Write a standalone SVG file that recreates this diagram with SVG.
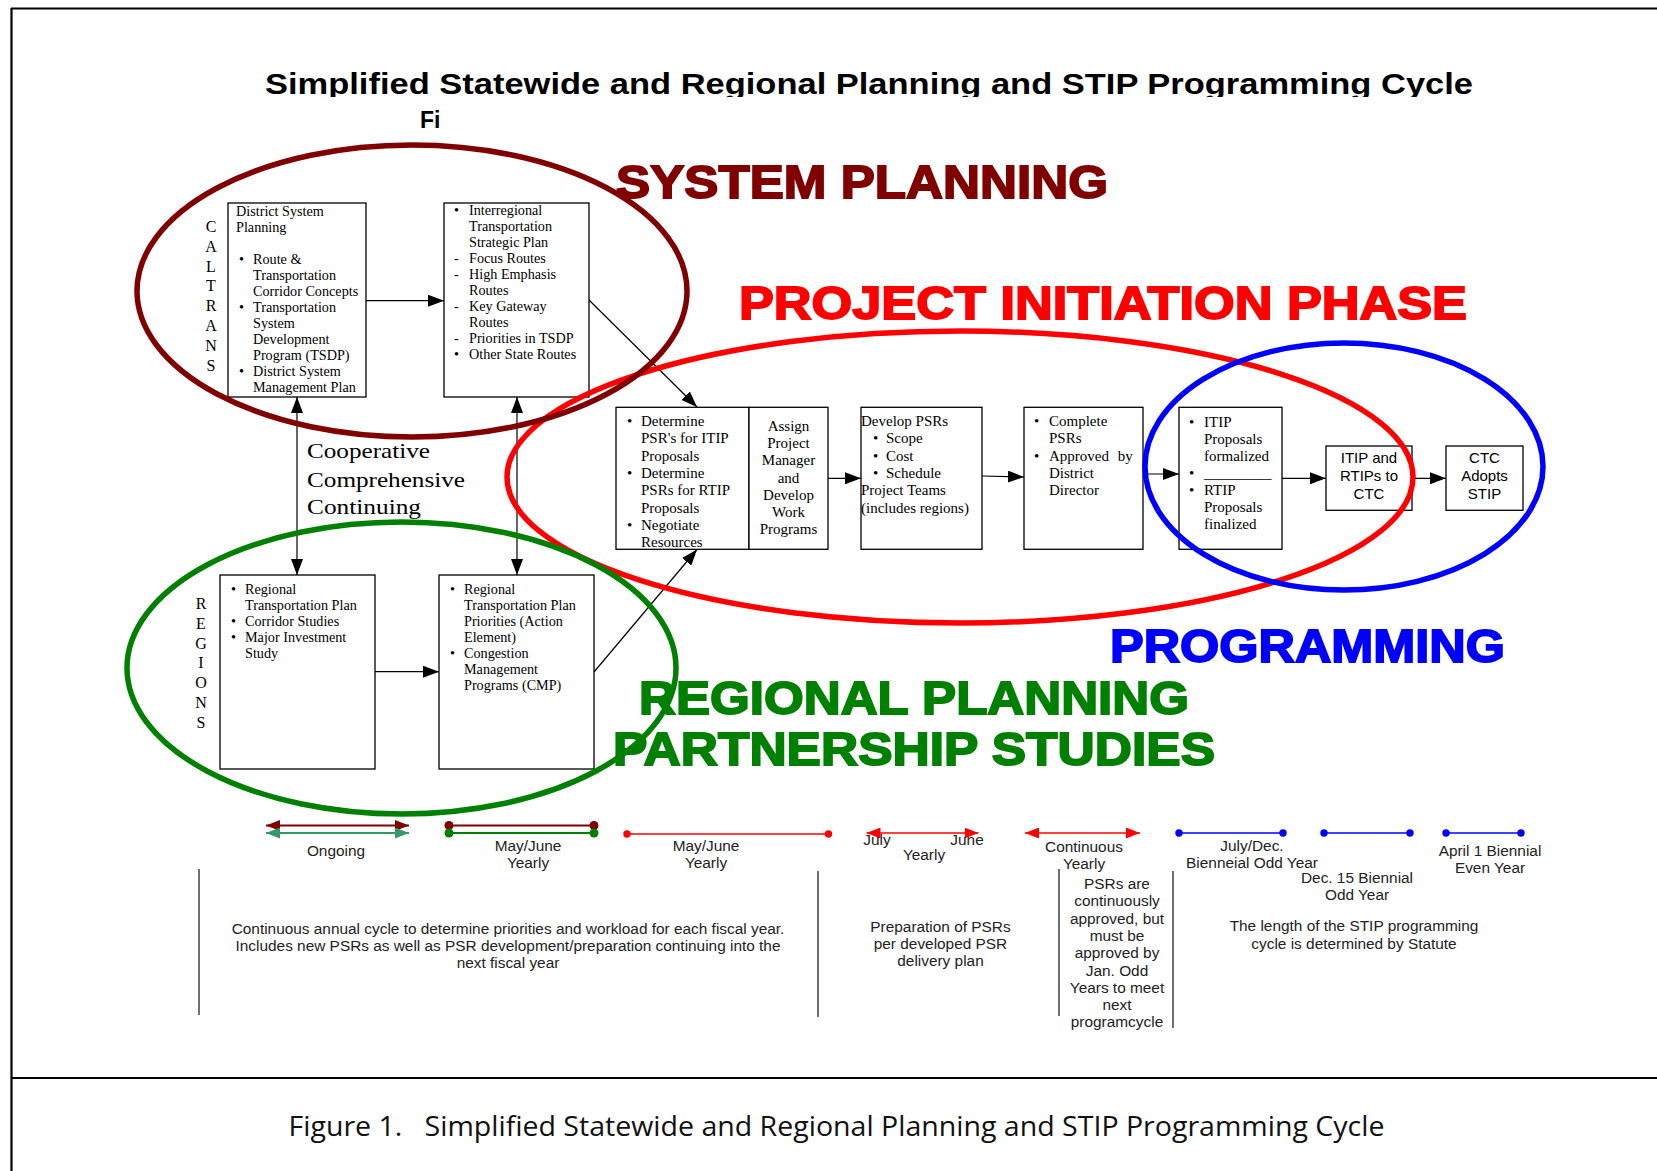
<svg xmlns="http://www.w3.org/2000/svg" width="1657" height="1171" viewBox="0 0 1657 1171">
<style>
.bx{fill:#fff;stroke:#000;stroke-width:1.3}
.s{font-family:"Liberation Serif","Times New Roman",serif;font-size:14.2px;fill:#000}
.s15{font-family:"Liberation Serif","Times New Roman",serif;font-size:15px;fill:#000}
.a15{font-family:"Liberation Sans",Arial,sans-serif;font-size:15px;fill:#000}
.t{font-family:"Liberation Sans",Arial,sans-serif;font-size:15.4px;fill:#222}
.big{font-family:"Liberation Sans",Arial,sans-serif;font-size:47px;font-weight:bold;stroke-width:1.8}
.conn{stroke:#000;stroke-width:1.2;fill:none}
.ell{fill:none;stroke-width:5.5}
.vl{stroke:#222;stroke-width:1.3}
</style>
<defs>
<marker id="ah" markerUnits="userSpaceOnUse" markerWidth="16" markerHeight="12" refX="16" refY="6" orient="auto-start-reverse"><path d="M0,0 L16,6 L0,12 z" fill="#000"/></marker>
<marker id="ahDR" markerUnits="userSpaceOnUse" markerWidth="14" markerHeight="11" refX="14" refY="5.5" orient="auto-start-reverse"><path d="M0,0 L14,5.5 L0,11 z" fill="#800000"/></marker>
<marker id="ahG" markerUnits="userSpaceOnUse" markerWidth="14" markerHeight="11" refX="14" refY="5.5" orient="auto-start-reverse"><path d="M0,0 L14,5.5 L0,11 z" fill="#339966"/></marker>
<marker id="ahR" markerUnits="userSpaceOnUse" markerWidth="14" markerHeight="11" refX="14" refY="5.5" orient="auto-start-reverse"><path d="M0,0 L14,5.5 L0,11 z" fill="#ff0000"/></marker>
<clipPath id="titleclip"><rect x="0" y="0" width="1657" height="97"/></clipPath>
</defs>
<rect width="1657" height="1171" fill="#fff"/>
<g id="frame" stroke="#000" stroke-width="2.2">
<line x1="11" y1="8.5" x2="1657" y2="8.5"/>
<line x1="11.5" y1="8" x2="11.5" y2="1171"/>
<line x1="11" y1="1078" x2="1657" y2="1078"/>
</g>
<text id="title" x="265" y="94" textLength="1208" lengthAdjust="spacingAndGlyphs" clip-path="url(#titleclip)" style="font-family:'Liberation Sans',Arial,sans-serif;font-size:29px;font-weight:bold" fill="#000">Simplified Statewide and Regional Planning and STIP Programming Cycle</text>
<text id="fi" x="420" y="127.7" style="font-family:'Liberation Sans',Arial,sans-serif;font-size:23px;font-weight:bold" fill="#000">Fi</text>

<g id="caltrans-label" class="s" style="font-size:16px" text-anchor="middle">
<text x="211" y="232">C</text><text x="211" y="251.8">A</text><text x="211" y="271.6">L</text><text x="211" y="291.4">T</text><text x="211" y="311.2">R</text><text x="211" y="331">A</text><text x="211" y="350.8">N</text><text x="211" y="370.6">S</text>
</g>
<g id="regions-label" class="s" style="font-size:16px" text-anchor="middle">
<text x="201" y="609">R</text><text x="201" y="628.8">E</text><text x="201" y="648.6">G</text><text x="201" y="668.4">I</text><text x="201" y="688.2">O</text><text x="201" y="708">N</text><text x="201" y="727.8">S</text>
</g>

<g id="connectors">
<line class="conn" x1="366" y1="300.7" x2="444" y2="300.7" marker-end="url(#ah)"/>
<line class="conn" x1="297" y1="397" x2="297" y2="575" marker-start="url(#ah)" marker-end="url(#ah)"/>
<line class="conn" x1="517" y1="397" x2="517" y2="575" marker-start="url(#ah)" marker-end="url(#ah)"/>
<line class="conn" x1="375" y1="671.7" x2="439" y2="671.7" marker-end="url(#ah)"/>
<line class="conn" x1="589" y1="300" x2="697" y2="407" marker-end="url(#ah)"/>
<line class="conn" x1="594" y1="672" x2="697" y2="549.5" marker-end="url(#ah)"/>
<line class="conn" x1="828" y1="478.3" x2="861" y2="478.3" marker-end="url(#ah)"/>
<line class="conn" x1="982" y1="476" x2="1024" y2="477" marker-end="url(#ah)"/>
<line class="conn" x1="1143" y1="474" x2="1179" y2="474" marker-end="url(#ah)"/>
<line class="conn" x1="1282" y1="478.3" x2="1326" y2="478.3" marker-end="url(#ah)"/>
<line class="conn" x1="1412" y1="478.3" x2="1446" y2="478.3" marker-end="url(#ah)"/>
</g>

<g id="n-district">
<rect class="bx" x="228" y="203" width="138" height="194"/>
<g class="s">
<text x="236" y="215.5">District System</text>
<text x="236" y="231.5">Planning</text>
<text x="239" y="263.5">•</text><text x="253" y="263.5">Route &amp;</text>
<text x="253" y="279.5">Transportation</text>
<text x="253" y="295.5">Corridor Concepts</text>
<text x="239" y="311.5">•</text><text x="253" y="311.5">Transportation</text>
<text x="253" y="327.5">System</text>
<text x="253" y="343.5">Development</text>
<text x="253" y="359.5">Program (TSDP)</text>
<text x="239" y="375.5">•</text><text x="253" y="375.5">District System</text>
<text x="253" y="391.5">Management Plan</text>
</g>
</g>

<g id="n-interregional">
<rect class="bx" x="444" y="203" width="145" height="194"/>
<g class="s">
<text x="454" y="215">•</text><text x="469" y="215">Interregional</text>
<text x="469" y="231">Transportation</text>
<text x="469" y="247">Strategic Plan</text>
<text x="454" y="263">-</text><text x="469" y="263">Focus Routes</text>
<text x="454" y="279">-</text><text x="469" y="279">High Emphasis</text>
<text x="469" y="295">Routes</text>
<text x="454" y="311">-</text><text x="469" y="311">Key Gateway</text>
<text x="469" y="327">Routes</text>
<text x="454" y="343">-</text><text x="469" y="343">Priorities in TSDP</text>
<text x="454" y="359">•</text><text x="469" y="359">Other State Routes</text>
</g>
</g>

<g id="n-rtp">
<rect class="bx" x="220" y="575" width="155" height="194"/>
<g class="s">
<text x="231" y="594">•</text><text x="245" y="594">Regional</text>
<text x="245" y="610">Transportation Plan</text>
<text x="231" y="626">•</text><text x="245" y="626">Corridor Studies</text>
<text x="231" y="642">•</text><text x="245" y="642">Major Investment</text>
<text x="245" y="658">Study</text>
</g>
</g>

<g id="n-rtp-priorities">
<rect class="bx" x="439" y="575" width="155" height="194"/>
<g class="s">
<text x="450" y="594">•</text><text x="464" y="594">Regional</text>
<text x="464" y="610">Transportation Plan</text>
<text x="464" y="626">Priorities (Action</text>
<text x="464" y="642">Element)</text>
<text x="450" y="658">•</text><text x="464" y="658">Congestion</text>
<text x="464" y="674">Management</text>
<text x="464" y="690">Programs (CMP)</text>
</g>
</g>

<g id="coop-label" class="s" style="font-size:21.5px">
<text x="307" y="458.3" textLength="123" lengthAdjust="spacingAndGlyphs">Cooperative</text>
<text x="307" y="486.7" textLength="158" lengthAdjust="spacingAndGlyphs">Comprehensive</text>
<text x="307" y="514.3" textLength="114" lengthAdjust="spacingAndGlyphs">Continuing</text>
</g>

<g id="n-determine">
<rect class="bx" x="616" y="407.3" width="133" height="142"/>
<g class="s15">
<text x="627" y="426">•</text><text x="641" y="426">Determine</text>
<text x="641" y="443.3">PSR's for ITIP</text>
<text x="641" y="460.7">Proposals</text>
<text x="627" y="478">•</text><text x="641" y="478">Determine</text>
<text x="641" y="495.3">PSRs for RTIP</text>
<text x="641" y="512.7">Proposals</text>
<text x="627" y="530">•</text><text x="641" y="530">Negotiate</text>
<text x="641" y="547.3">Resources</text>
</g>
</g>

<g id="n-assign">
<rect class="bx" x="749" y="407.3" width="79" height="142"/>
<g class="s15" text-anchor="middle">
<text x="788.5" y="431">Assign</text>
<text x="788.5" y="448.2">Project</text>
<text x="788.5" y="465.4">Manager</text>
<text x="788.5" y="482.6">and</text>
<text x="788.5" y="499.8">Develop</text>
<text x="788.5" y="517">Work</text>
<text x="788.5" y="534.3">Programs</text>
</g>
</g>

<g id="n-develop">
<rect class="bx" x="861" y="407.3" width="121" height="142"/>
<g class="s15">
<text x="861" y="426">Develop PSRs</text>
<text x="873" y="443.3">•</text><text x="886" y="443.3">Scope</text>
<text x="873" y="460.7">•</text><text x="886" y="460.7">Cost</text>
<text x="873" y="478">•</text><text x="886" y="478">Schedule</text>
<text x="861" y="495.3">Project Teams</text>
<text x="861" y="512.7">(includes regions)</text>
</g>
</g>

<g id="n-complete">
<rect class="bx" x="1024" y="407.3" width="119" height="142"/>
<g class="s15">
<text x="1034" y="426">•</text><text x="1049" y="426">Complete</text>
<text x="1049" y="443.3">PSRs</text>
<text x="1034" y="460.7">•</text><text x="1049" y="460.7" word-spacing="5">Approved by</text>
<text x="1049" y="478">District</text>
<text x="1049" y="495.3">Director</text>
</g>
</g>

<g id="n-itip">
<rect class="bx" x="1179" y="407.3" width="103" height="142"/>
<g class="s15">
<text x="1189" y="426.7">•</text><text x="1204" y="426.7">ITIP</text>
<text x="1204" y="443.8">Proposals</text>
<text x="1204" y="460.9">formalized</text>
<text x="1189" y="478">•</text><text x="1204" y="478">_________</text>
<text x="1189" y="495.1">•</text><text x="1204" y="495.1">RTIP</text>
<text x="1204" y="512.2">Proposals</text>
<text x="1204" y="529.3">finalized</text>
</g>
</g>

<g id="n-to-ctc">
<rect class="bx" x="1326" y="446" width="86" height="64.3"/>
<g class="a15" text-anchor="middle">
<text x="1369" y="463.3">ITIP and</text>
<text x="1369" y="481.3">RTIPs to</text>
<text x="1369" y="499.3">CTC</text>
</g>
</g>

<g id="n-ctc-adopts">
<rect class="bx" x="1446" y="446" width="77" height="64.3"/>
<g class="a15" text-anchor="middle">
<text x="1484.5" y="463.3">CTC</text>
<text x="1484.5" y="481.3">Adopts</text>
<text x="1484.5" y="499.3">STIP</text>
</g>
</g>

<g id="phase-ellipses">
<ellipse class="ell" cx="960" cy="477" rx="453" ry="146" stroke="#ff0000"/>
<ellipse class="ell" cx="1344" cy="466.5" rx="199" ry="123.5" stroke="#0000ff" stroke-width="5"/>
<ellipse class="ell" cx="412" cy="291" rx="275" ry="146" stroke="#800000"/>
<ellipse class="ell" cx="401.5" cy="668" rx="274.5" ry="146" stroke="#008000"/>
</g>

<g id="phase-labels">
<text class="big" x="616" y="198" textLength="492" lengthAdjust="spacingAndGlyphs" fill="#800000" stroke="#800000">SYSTEM PLANNING</text>
<text class="big" x="739" y="319" textLength="728" lengthAdjust="spacingAndGlyphs" fill="#ff0000" stroke="#ff0000">PROJECT INITIATION PHASE</text>
<text class="big" x="1110" y="662" textLength="395" lengthAdjust="spacingAndGlyphs" fill="#0000ff" stroke="#0000ff">PROGRAMMING</text>
<text class="big" x="639" y="714" textLength="550" lengthAdjust="spacingAndGlyphs" fill="#008000" stroke="#008000">REGIONAL PLANNING</text>
<text class="big" x="613" y="765" textLength="602" lengthAdjust="spacingAndGlyphs" fill="#008000" stroke="#008000">PARTNERSHIP STUDIES</text>
</g>

<g id="timeline">
<line x1="266" y1="825.5" x2="409" y2="825.5" stroke="#800000" stroke-width="1.8" marker-start="url(#ahDR)" marker-end="url(#ahDR)"/>
<line x1="266" y1="833" x2="409" y2="833" stroke="#339966" stroke-width="1.8" marker-start="url(#ahG)" marker-end="url(#ahG)"/>
<line x1="449" y1="825.5" x2="594" y2="825.5" stroke="#800000" stroke-width="1.8"/>
<circle cx="449" cy="825.5" r="4.5" fill="#800000"/><circle cx="594" cy="825.5" r="4.5" fill="#800000"/>
<line x1="449" y1="833" x2="594" y2="833" stroke="#008000" stroke-width="1.8"/>
<circle cx="449" cy="833" r="4.5" fill="#008000"/><circle cx="594" cy="833" r="4.5" fill="#008000"/>
<line x1="627" y1="834" x2="828.5" y2="834" stroke="#ff0000" stroke-width="1.3"/>
<circle cx="627" cy="834" r="3.7" fill="#ff0000"/><circle cx="828.5" cy="834" r="3.7" fill="#ff0000"/>
<line x1="866.5" y1="833" x2="978.5" y2="833" stroke="#ff0000" stroke-width="1.3" marker-start="url(#ahR)" marker-end="url(#ahR)"/>
<line x1="1025" y1="833" x2="1140" y2="833" stroke="#ff0000" stroke-width="1.3" marker-start="url(#ahR)" marker-end="url(#ahR)"/>
<line x1="1179" y1="833" x2="1283" y2="833" stroke="#0000ff" stroke-width="1.3"/>
<circle cx="1179" cy="833" r="3.7" fill="#0000ff"/><circle cx="1283" cy="833" r="3.7" fill="#0000ff"/>
<line x1="1324" y1="833" x2="1410" y2="833" stroke="#0000ff" stroke-width="1.3"/>
<circle cx="1324" cy="833" r="3.7" fill="#0000ff"/><circle cx="1410" cy="833" r="3.7" fill="#0000ff"/>
<line x1="1446" y1="833" x2="1521" y2="833" stroke="#0000ff" stroke-width="1.3"/>
<circle cx="1446" cy="833" r="3.7" fill="#0000ff"/><circle cx="1521" cy="833" r="3.7" fill="#0000ff"/>

<line class="vl" x1="199" y1="869" x2="199" y2="1015"/>
<line class="vl" x1="818" y1="871" x2="818" y2="1017"/>
<line class="vl" x1="1059" y1="869" x2="1059" y2="1016"/>
<line class="vl" x1="1173" y1="871" x2="1173" y2="1028"/>

<g class="t" text-anchor="middle">
<text x="336" y="856">Ongoing</text>
<text x="528" y="851">May/June</text><text x="528" y="868">Yearly</text>
<text x="706" y="851">May/June</text><text x="706" y="868">Yearly</text>
<text x="877" y="845">July</text><text x="967" y="845">June</text><text x="924" y="860">Yearly</text>
<text x="1084" y="852">Continuous</text><text x="1084" y="869">Yearly</text>
<text x="1252" y="851">July/Dec.</text><text x="1252" y="868">Bienneial Odd Year</text>
<text x="1357" y="883">Dec. 15 Biennial</text><text x="1357" y="900">Odd Year</text>
<text x="1490" y="856">April 1 Biennial</text><text x="1490" y="873">Even Year</text>
<text x="508" y="934">Continuous annual cycle to determine priorities and workload for each fiscal year.</text>
<text x="508" y="951">Includes new PSRs as well as PSR development/preparation continuing into the</text>
<text x="508" y="968">next fiscal year</text>
<text x="940.5" y="932">Preparation of PSRs</text>
<text x="940.5" y="949">per developed PSR</text>
<text x="940.5" y="966">delivery plan</text>
<text x="1117" y="889">PSRs are</text>
<text x="1117" y="906.3">continuously</text>
<text x="1117" y="923.6">approved, but</text>
<text x="1117" y="940.9">must be</text>
<text x="1117" y="958.2">approved by</text>
<text x="1117" y="975.5">Jan. Odd</text>
<text x="1117" y="992.8">Years to meet</text>
<text x="1117" y="1010.1">next</text>
<text x="1117" y="1027.4">programcycle</text>
<text x="1354" y="931">The length of the STIP programming</text>
<text x="1354" y="949">cycle is determined by Statute</text>
</g>
</g>

<text id="caption" x="288.5" y="1136" textLength="1096" lengthAdjust="spacingAndGlyphs" xml:space="preserve" style="font-family:'Open Sans','DejaVu Sans',sans-serif;font-size:28px;white-space:pre" fill="#111">Figure 1.   Simplified Statewide and Regional Planning and STIP Programming Cycle</text>
</svg>
